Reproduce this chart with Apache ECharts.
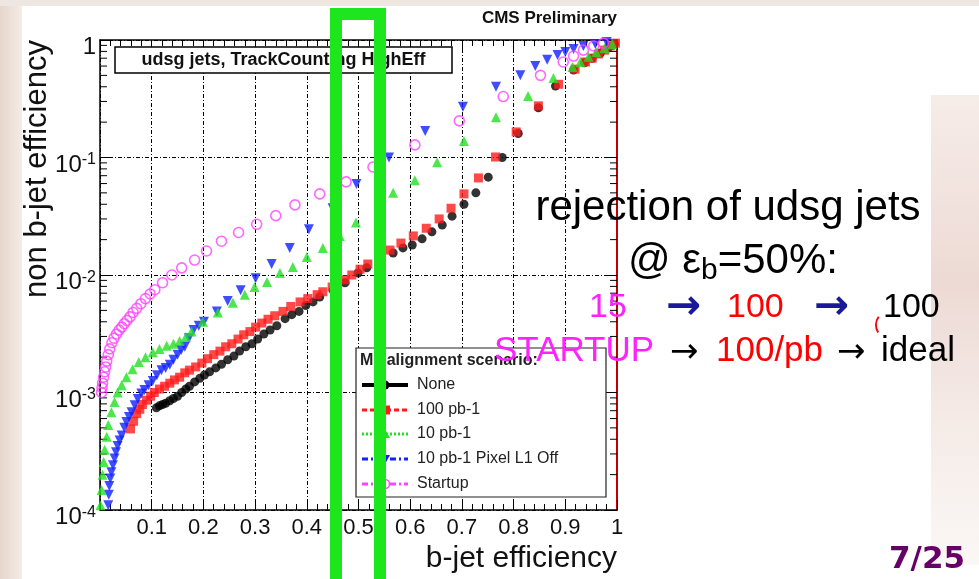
<!DOCTYPE html>
<html><head><meta charset="utf-8">
<script src="https://cdn.jsdelivr.net/npm/echarts@6/dist/echarts.min.js"></script>
<style>html,body{margin:0;padding:0;background:#fff}#c{width:979px;height:579px}</style>
</head><body><div id="c"></div>
<script>
// ---------- data ----------
const xTickLabels = ['0.1','0.2','0.3','0.4','0.5','0.6','0.7','0.8','0.9','1'];
const yTickExponents = [0, -1, -2, -3, -4];
const logMinorTicks = [2e-4,3e-4,4e-4,5e-4,6e-4,7e-4,8e-4,9e-4,2e-3,3e-3,4e-3,5e-3,6e-3,7e-3,8e-3,9e-3,
  2e-2,3e-2,4e-2,5e-2,6e-2,7e-2,8e-2,9e-2,0.2,0.3,0.4,0.5,0.6,0.7,0.8,0.9];
const legendLabels = ['None','100 pb-1','10 pb-1','10 pb-1 Pixel L1 Off','Startup'];

// None (ideal)
const noneEff = [0.109,0.115,0.121,0.127,0.135,0.142,0.150,0.158,0.166,0.173,0.183,0.193,0.202,0.212,0.224,0.235,0.247,0.259,0.270,0.282,0.294,0.305,0.317,0.329,0.342,0.358,0.371,0.385,0.398,0.412,0.425,0.451,0.474,0.499,0.516,0.542,0.567,0.586,0.604,0.623,0.642,0.662,0.681,0.704,0.727,0.751,0.778,0.809,0.848,0.881,0.916,0.937,0.952,0.968,0.983,0.995];
const noneMis = [7.4e-4,7.7e-4,7.9e-4,8.1e-4,8.5e-4,8.9e-4,9.3e-4,1.0e-3,1.07e-3,1.13e-3,1.23e-3,1.32e-3,1.41e-3,1.5e-3,1.62e-3,1.74e-3,1.9e-3,2.04e-3,2.25e-3,2.45e-3,2.6e-3,2.85e-3,3.15e-3,3.4e-3,3.7e-3,4.25e-3,4.6e-3,4.9e-3,5.5e-3,5.9e-3,6.5e-3,7.4e-3,8.6e-3,1.04e-2,1.15e-2,1.34e-2,1.54e-2,1.7e-2,1.8e-2,2.03e-2,2.33e-2,2.66e-2,3.17e-2,4.0e-2,5.0e-2,6.8e-2,0.10,0.16,0.265,0.405,0.555,0.64,0.70,0.775,0.855,0.925];

// 100 pb-1
const pb100Eff = [0.059,0.065,0.071,0.077,0.082,0.090,0.098,0.105,0.115,0.125,0.135,0.144,0.154,0.164,0.173,0.185,0.197,0.208,0.220,0.232,0.243,0.255,0.267,0.278,0.290,0.301,0.313,0.325,0.338,0.354,0.369,0.387,0.402,0.420,0.431,0.449,0.474,0.487,0.503,0.518,0.540,0.561,0.582,0.606,0.631,0.656,0.679,0.704,0.732,0.765,0.805,0.848,0.887,0.919,0.939,0.952,0.964,0.976,0.987,0.997];
const pb100Mis = [4.9e-4,5.7e-4,6.6e-4,7.2e-4,7.9e-4,8.6e-4,9.3e-4,1.0e-3,1.07e-3,1.13e-3,1.2e-3,1.28e-3,1.35e-3,1.47e-3,1.55e-3,1.65e-3,1.78e-3,1.94e-3,2.1e-3,2.25e-3,2.45e-3,2.6e-3,2.85e-3,3.1e-3,3.3e-3,3.6e-3,3.9e-3,4.2e-3,4.5e-3,4.9e-3,5.4e-3,5.9e-3,6.3e-3,6.8e-3,7.2e-3,7.9e-3,9.1e-3,1.0e-2,1.12e-2,1.24e-2,1.42e-2,1.63e-2,1.87e-2,2.15e-2,2.5e-2,3.0e-2,3.7e-2,4.9e-2,6.7e-2,0.101,0.165,0.275,0.42,0.565,0.65,0.70,0.76,0.82,0.89,0.94];

// 10 pb-1
const pb10Eff = [0.001,0.003,0.005,0.007,0.009,0.013,0.016,0.022,0.028,0.034,0.042,0.051,0.063,0.075,0.088,0.102,0.115,0.129,0.142,0.154,0.166,0.177,0.199,0.228,0.257,0.280,0.299,0.323,0.348,0.373,0.400,0.431,0.464,0.495,0.567,0.609,0.652,0.704,0.766,0.828,0.877,0.914,0.929,0.945,0.960,0.976,0.991];
const pb10Mis = [1.1e-4,1.48e-4,2.0e-4,2.56e-4,3.25e-4,4.2e-4,5.3e-4,6.8e-4,8.3e-4,1.0e-3,1.15e-3,1.35e-3,1.58e-3,1.82e-3,2.0e-3,2.2e-3,2.35e-3,2.5e-3,2.6e-3,2.75e-3,2.97e-3,3.3e-3,4.0e-3,4.8e-3,5.8e-3,6.8e-3,7.9e-3,8.7e-3,1.04e-2,1.17e-2,1.42e-2,1.7e-2,2.15e-2,2.8e-2,5.0e-2,6.4e-2,9.1e-2,0.138,0.22,0.333,0.475,0.59,0.65,0.72,0.79,0.855,0.925];

// 10 pb-1 Pixel L1 Off
const pixEff = [0.016,0.017,0.018,0.020,0.022,0.025,0.028,0.031,0.034,0.038,0.042,0.047,0.051,0.056,0.061,0.067,0.073,0.080,0.086,0.094,0.102,0.110,0.119,0.127,0.135,0.142,0.150,0.157,0.164,0.172,0.181,0.191,0.201,0.226,0.247,0.272,0.301,0.332,0.367,0.404,0.450,0.496,0.559,0.629,0.702,0.766,0.813,0.842,0.865,0.885,0.900,0.916,0.935,0.958,0.980];
const pixMis = [1.1e-4,1.35e-4,1.6e-4,1.85e-4,2.1e-4,2.4e-4,2.75e-4,3.1e-4,3.5e-4,3.9e-4,4.3e-4,5.0e-4,5.6e-4,6.2e-4,6.8e-4,7.8e-4,8.8e-4,9.8e-4,1.05e-3,1.15e-3,1.25e-3,1.4e-3,1.55e-3,1.62e-3,1.72e-3,1.9e-3,2.1e-3,2.3e-3,2.45e-3,2.9e-3,3.4e-3,3.7e-3,4.0e-3,4.9e-3,6.0e-3,7.4e-3,9.4e-3,1.24e-2,1.7e-2,2.45e-2,3.7e-2,5.95e-2,0.10,0.168,0.27,0.40,0.50,0.60,0.68,0.745,0.79,0.84,0.89,0.925,0.96];

// Startup
const startEff = [0.003,0.004,0.005,0.007,0.009,0.011,0.013,0.016,0.019,0.023,0.027,0.032,0.037,0.042,0.047,0.052,0.058,0.064,0.071,0.079,0.088,0.097,0.106,0.121,0.139,0.158,0.183,0.206,0.235,0.268,0.303,0.340,0.377,0.425,0.476,0.528,0.609,0.695,0.780,0.852,0.896,0.916,0.935,0.955,0.974];
const startMis = [1.0e-3,1.1e-3,1.2e-3,1.35e-3,1.5e-3,1.65e-3,1.85e-3,2.1e-3,2.35e-3,2.65e-3,2.9e-3,3.15e-3,3.4e-3,3.6e-3,3.85e-3,4.1e-3,4.4e-3,4.8e-3,5.2e-3,5.7e-3,6.3e-3,6.9e-3,7.5e-3,8.6e-3,1.0e-2,1.15e-2,1.34e-2,1.6e-2,1.94e-2,2.3e-2,2.7e-2,3.2e-2,3.95e-2,4.9e-2,6.2e-2,8.3e-2,0.128,0.205,0.33,0.50,0.65,0.73,0.82,0.89,0.94];

// ---------- chart ----------
const FONT = "'Liberation Sans', Arial, sans-serif";
const zip = (a, b) => a.map((v, i) => [v, b[i]]);
const C = { none:'#000000', pb100:'#ff1a1a', pb10:'#22e022', pix:'#1020ff', start:'#ff44ff' };

const chart = echarts.init(document.getElementById('c'), null, { renderer: 'canvas' });

const yLabel = v => {
  const e = Math.round(Math.log10(v));
  if (!yTickExponents.includes(e)) return '';
  return e === 0 ? '{b|1}' : '{b|10}{s|' + e + '}';
};

const tickLen = 10, minorLen = 6;

const option = {
  backgroundColor: '#ffffff',
  animation: false,
  grid: { left: 100, right: 362, top: 40, bottom: 69, show: false },
  xAxis: [{
    type: 'value', min: 0, max: 1, interval: 0.1, position: 'bottom',
    axisLine: { show: true, onZero: false, lineStyle: { color: '#000', width: 1.5 } },
    axisTick: { show: true, inside: true, length: tickLen, lineStyle: { color: '#000' } },
    minorTick: { show: true, splitNumber: 5, length: minorLen, lineStyle: { color: '#000' } },
    axisLabel: {
      margin: 7, fontFamily: FONT, fontSize: 22, color: '#111',
      formatter: v => { const i = Math.round(v * 10) - 1; return i >= 0 ? xTickLabels[i] : ''; }
    },
    splitLine: { show: true, lineStyle: { color: '#000', width: 1, type: [4, 2, 1, 2] } },
    name: 'b-jet efficiency', nameLocation: 'end', nameGap: 0,
    nameTextStyle: { fontFamily: FONT, fontSize: 30, color: '#111', align: 'right', verticalAlign: 'top', padding: [34, 0, 0, 0] }
  }, {
    type: 'value', min: 0, max: 1, interval: 0.1, position: 'top',
    axisLine: { show: true, onZero: false, lineStyle: { color: '#000', width: 1.5 } },
    axisTick: { show: true, inside: true, length: tickLen, lineStyle: { color: '#000' } },
    minorTick: { show: true, splitNumber: 5, length: minorLen, lineStyle: { color: '#000' } },
    axisLabel: { show: false }, splitLine: { show: false }
  }],
  yAxis: [{
    type: 'log', logBase: 10, min: 1e-4, max: 1, splitNumber: 4, position: 'left',
    axisLine: { show: true, onZero: false, lineStyle: { color: '#000', width: 1.5 } },
    axisTick: { show: true, inside: true, length: 12, lineStyle: { color: '#000' } },
    axisLabel: {
      margin: 4, formatter: yLabel, padding: [15, 0, 0, 0],
      rich: {
        b: { fontFamily: FONT, fontSize: 24, color: '#111', lineHeight: 26 },
        s: { fontFamily: FONT, fontSize: 16, color: '#111', lineHeight: 14, verticalAlign: 'top' }
      }
    },
    splitLine: { show: true, lineStyle: { color: '#000', width: 1, type: [4, 2, 1, 2] } }
  }, {
    type: 'log', logBase: 10, min: 1e-4, max: 1, splitNumber: 4, position: 'right',
    axisLine: { show: true, onZero: false, lineStyle: { color: '#c00000', width: 2 } },
    axisTick: { show: true, inside: true, length: 12, lineStyle: { color: '#000' } },
    axisLabel: { show: false }, splitLine: { show: false }
  }],
  series: [
    {
      type: 'custom', name: 'logMinor', silent: true, clip: false, z: 1,
      data: logMinorTicks.map(v => [0, v]),
      encode: { x: 0, y: 1 },
      renderItem: (params, api) => {
        const v = api.value(1);
        const l = api.coord([0, v]), r = api.coord([1, v]);
        return { type: 'group', children: [
          { type: 'line', shape: { x1: l[0], y1: l[1], x2: l[0] + 7, y2: l[1] }, style: { stroke: '#000', lineWidth: 1 } },
          { type: 'line', shape: { x1: r[0], y1: r[1], x2: r[0] - 7, y2: r[1] }, style: { stroke: '#000', lineWidth: 1 } }
        ]};
      }
    },
    { type: 'scatter', name: legendLabels[0], data: zip(noneEff, noneMis), symbol: 'circle', symbolSize: 9, itemStyle: { color: C.none }, z: 2 },
    { type: 'scatter', name: legendLabels[1], data: zip(pb100Eff, pb100Mis), symbol: 'rect', symbolSize: 9, itemStyle: { color: C.pb100 }, z: 3 },
    { type: 'scatter', name: legendLabels[3], data: zip(pixEff, pixMis), symbol: 'triangle', symbolRotate: 180, symbolSize: 10, itemStyle: { color: C.pix }, z: 4 },
    { type: 'scatter', name: legendLabels[2], data: zip(pb10Eff, pb10Mis), symbol: 'triangle', symbolSize: 10, itemStyle: { color: C.pb10 }, z: 5 },
    { type: 'scatter', name: legendLabels[4], data: zip(startEff, startMis), symbol: 'circle', symbolSize: 10,
      itemStyle: { color: 'rgba(0,0,0,0)', borderColor: C.start, borderWidth: 1.6 }, z: 6 }
  ],
  graphic: { elements: [] }
};

const G = option.graphic.elements;
// slide background
G.push({ type: 'rect', z: -10, silent: true, shape: { x: 0, y: 0, width: 22, height: 579 },
  style: { fill: new echarts.graphic.LinearGradient(0, 0, 1, 0, [{ offset: 0, color: '#e6d6cc' }, { offset: 1, color: '#f4ece6' }]) } });
G.push({ type: 'rect', z: -10, silent: true, shape: { x: 0, y: 0, width: 979, height: 6 }, style: { fill: '#eee6e1' } });
G.push({ type: 'rect', z: -10, silent: true, shape: { x: 931, y: 95, width: 48, height: 470 },
  style: { fill: new echarts.graphic.LinearGradient(0, 0, 0, 1, [{ offset: 0, color: 'rgba(210,160,140,0.2)' }, { offset: 0.4, color: 'rgba(190,120,100,0.28)' }, { offset: 1, color: 'rgba(225,200,185,0.15)' }]) } });

// plot header texts
G.push({ type: 'text', z: 50, style: { text: 'CMS Preliminary', x: 617, y: 18, align: 'right', verticalAlign: 'middle',
  font: "bold 17px " + FONT, fill: '#111' } });
G.push({ type: 'rect', z: 50, shape: { x: 115, y: 47, width: 337, height: 26 }, style: { fill: '#fff', stroke: '#000', lineWidth: 1.5 } });
G.push({ type: 'text', z: 51, style: { text: 'udsg jets, TrackCounting HighEff', x: 283.5, y: 60.5, align: 'center', verticalAlign: 'middle',
  font: "bold 18px " + FONT, fill: '#111' } });
// y axis title
G.push({ type: 'text', z: 50, x: 37, y: 169, rotation: Math.PI / 2,
  style: { text: 'non b-jet efficiency', x: 0, y: 0, align: 'center', verticalAlign: 'middle', font: "31px " + FONT, fill: '#111' } });

// legend box
const LX = 356, LY = 348, LW = 250, LH = 149;
G.push({ type: 'rect', z: 60, shape: { x: LX, y: LY, width: LW, height: LH }, style: { fill: '#fff', stroke: '#222', lineWidth: 1.2 } });
G.push({ type: 'text', z: 61, style: { text: 'Misalignment scenario:', x: 360, y: 361, align: 'left', verticalAlign: 'middle', font: "bold 16px " + FONT, fill: '#222' } });
const legStyles = [
  { c: C.none, dash: null, w: 4, sym: 'circle' },
  { c: C.pb100, dash: [5, 3], w: 3, sym: 'rect' },
  { c: C.pb10, dash: [2, 2], w: 3, sym: 'tri' },
  { c: C.pix, dash: [6, 3, 2, 3], w: 3, sym: 'tridown' },
  { c: C.start, dash: [6, 3, 2, 3], w: 3, sym: 'ring' }
];
const legY = [385, 410, 434, 459, 484];
legStyles.forEach((s, i) => {
  const y = legY[i];
  G.push({ type: 'line', z: 61, shape: { x1: 362, y1: y, x2: 408, y2: y }, style: { stroke: s.c, lineWidth: s.w, lineDash: s.dash } });
  if (s.sym === 'circle') G.push({ type: 'circle', z: 62, shape: { cx: 385, cy: y, r: 4.5 }, style: { fill: s.c } });
  if (s.sym === 'rect') G.push({ type: 'rect', z: 62, shape: { x: 381, y: y - 4.5, width: 9, height: 9 }, style: { fill: s.c } });
  if (s.sym === 'tri') G.push({ type: 'polygon', z: 62, shape: { points: [[385, y - 5], [390, y + 4], [380, y + 4]] }, style: { fill: s.c } });
  if (s.sym === 'tridown') G.push({ type: 'polygon', z: 62, shape: { points: [[385, y + 5], [390, y - 4], [380, y - 4]] }, style: { fill: s.c } });
  if (s.sym === 'ring') G.push({ type: 'circle', z: 62, shape: { cx: 385, cy: y, r: 4.5 }, style: { fill: '#fff', stroke: s.c, lineWidth: 1.5 } });
  G.push({ type: 'text', z: 61, style: { text: legendLabels[i], x: 417, y: y, align: 'left', verticalAlign: 'middle', font: "16px " + FONT, fill: '#222' } });
});

// slide text on the right
G.push({ type: 'text', z: 80, style: { text: 'rejection of udsg jets', x: 728, y: 208, align: 'center', verticalAlign: 'middle', font: "42px " + FONT, fill: '#000' } });
G.push({ type: 'text', z: 80, style: { text: '{n|@ ε}{sub|b}{n|=50%:}', x: 733, y: 261, align: 'center', verticalAlign: 'middle',
  rich: { n: { fontFamily: FONT, fontSize: 42, lineHeight: 50, fill: '#000' }, sub: { fontFamily: FONT, fontSize: 30, lineHeight: 24, verticalAlign: 'bottom', fill: '#000' } } } });
const row3 = [
  { t: '15', x: 589, c: '#ff22ff', f: "34px " + FONT },
  { t: '→', x: 666, c: '#1a1a96', f: "bold 42px 'DejaVu Sans', sans-serif" },
  { t: '100', x: 727, c: '#ff0000', f: "34px " + FONT },
  { t: '→', x: 814, c: '#1a1a96', f: "bold 42px 'DejaVu Sans', sans-serif" },
  { t: '100', x: 883, c: '#000000', f: "34px " + FONT }
];
row3.forEach(r => G.push({ type: 'text', z: 80, style: { text: r.t, x: r.x, y: 308, align: 'left', verticalAlign: 'middle', font: r.f, fill: r.c } }));
G.push({ type: 'arc', z: 80, shape: { cx: 890, cy: 325, r: 14, startAngle: Math.PI * 0.82, endAngle: Math.PI * 1.2 }, style: { stroke: '#ff0000', lineWidth: 2, fill: 'none' } });
const row4 = [
  { t: 'STARTUP', x: 494, c: '#ff22ff', f: "35px " + FONT },
  { t: '→', x: 670, c: '#000000', f: "34px 'DejaVu Sans', sans-serif" },
  { t: '100/pb', x: 716, c: '#ff0000', f: "35px " + FONT },
  { t: '→', x: 837, c: '#000000', f: "34px 'DejaVu Sans', sans-serif" },
  { t: 'ideal', x: 881, c: '#000000', f: "35px " + FONT }
];
row4.forEach(r => G.push({ type: 'text', z: 80, style: { text: r.t, x: r.x, y: r.t === '→' ? 353 : 351, align: 'left', verticalAlign: 'middle', font: r.f, fill: r.c } }));
G.push({ type: 'text', z: 80, style: { text: '7/25', x: 927, y: 560, align: 'center', verticalAlign: 'middle', font: "bold 31px 'DejaVu Sans', sans-serif", fill: '#660066' } });

// green highlight box
G.push({ type: 'rect', z: 100, silent: true, shape: { x: 336, y: 14, width: 44, height: 600 }, style: { fill: 'none', stroke: '#1ee61e', lineWidth: 12 } });

chart.setOption(option);
</script>
</body></html>
